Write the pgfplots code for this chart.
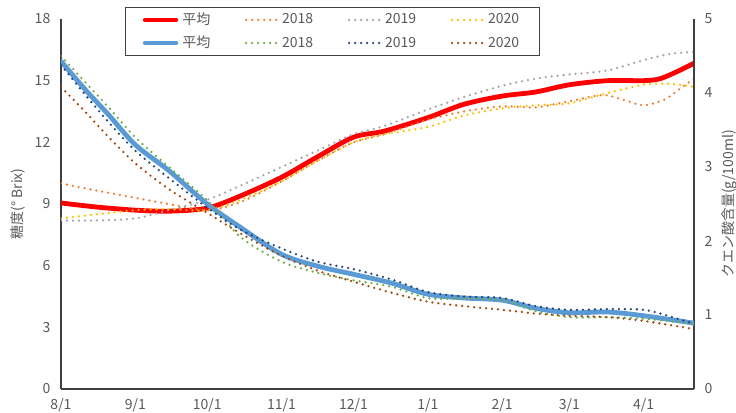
\documentclass[border=0pt]{standalone}
\usepackage{fontspec}
\setmainfont{Noto Sans CJK JP}
\usepackage{pgfplots}
\pgfplotsset{compat=1.18}
\usepackage{pgfplotstable}

\definecolor{cRed}{HTML}{FF0000}
\definecolor{cOrange}{HTML}{ED7D31}
\definecolor{cGray}{HTML}{A5A5A5}
\definecolor{cYellow}{HTML}{FFC000}
\definecolor{cBlue}{HTML}{5B9BD5}
\definecolor{cGreen}{HTML}{70AD47}
\definecolor{cDkBlue}{HTML}{264478}
\definecolor{cBrown}{HTML}{9E480E}
\definecolor{txt}{HTML}{595959}
\definecolor{axl}{HTML}{404040}

% Brix (left axis), x = days since 8/1
\pgfplotstableread{
d r
0 9.05
15 8.85
31 8.7
45 8.65
61 8.8
75 9.4
92 10.3
107 11.3
122 12.25
135 12.55
153 13.2
168 13.85
184 14.25
198 14.45
212 14.8
228 15.0
243 15.0
250 15.1
258 15.5
264 15.85
}\brixavg
\pgfplotstableread{
d r
0 10.0
15 9.65
31 9.3
45 9.0
61 8.7
75 9.1
92 10.1
107 11.1
122 12.0
135 12.4
153 13.1
168 13.5
184 13.75
198 13.7
212 14.0
226 14.3
235 14.05
243 13.8
252 14.1
258 14.6
264 15.1
}\brixA
\pgfplotstableread{
d r
0 8.2
15 8.2
31 8.3
45 8.7
61 9.2
75 9.9
92 10.8
107 11.6
122 12.4
135 12.8
153 13.6
168 14.2
184 14.75
198 15.1
212 15.3
228 15.5
243 16.0
254 16.3
264 16.4
}\brixB
\pgfplotstableread{
d r
0 8.3
15 8.5
31 8.7
45 8.75
61 8.7
75 9.2
92 10.1
107 11.1
122 12.0
135 12.4
153 12.75
168 13.3
184 13.65
198 13.8
212 13.9
228 14.4
243 14.8
254 14.85
264 14.7
}\brixC

% citric acid (right axis)
\pgfplotstableread{
d a
0 4.43
10 4.05
20 3.7
31 3.3
45 2.95
61 2.5
75 2.18
92 1.82
107 1.66
122 1.55
138 1.43
153 1.28
168 1.23
184 1.2
198 1.09
212 1.03
228 1.04
243 0.99
264 0.89
}\acidavg
\pgfplotstableread{
d a
0 4.5
10 4.15
20 3.8
31 3.4
45 3.0
61 2.55
75 2.05
92 1.72
107 1.57
122 1.47
138 1.38
153 1.23
168 1.22
184 1.2
198 1.05
212 0.97
228 0.97
243 0.95
264 0.88
}\acidA
\pgfplotstableread{
d a
0 4.38
10 3.98
20 3.6
31 3.22
45 2.85
61 2.45
75 2.15
92 1.9
107 1.72
122 1.62
138 1.48
153 1.31
168 1.25
184 1.23
198 1.12
212 1.07
228 1.08
243 1.07
252 1.0
264 0.88
}\acidB
\pgfplotstableread{
d a
0 4.08
10 3.75
20 3.4
31 3.05
45 2.7
61 2.38
75 2.1
92 1.8
107 1.6
122 1.45
138 1.3
153 1.18
168 1.12
184 1.07
198 1.02
212 0.99
228 0.97
243 0.92
264 0.81
}\acidC

\pgfplotsset{
  base/.style={
    width=474.75pt, height=277.5pt, scale only axis,
    at={(0,0)}, anchor=south west,
    xmin=0, xmax=264,
    major tick length=0pt,
    tick label style={font=\fontsize{10.5}{12}\selectfont, text=txt},
    label style={font=\fontsize{10.5}{12}\selectfont, text=txt},
    /pgf/number format/assume math mode=true,
    axis line style={-, draw=axl, line width=0.8pt},
  },
  avg/.style={line width=3.6pt, smooth, tension=0.5, no marks},
  dots/.style={line width=1.9pt, line cap=round, dash pattern=on 0pt off 4.5pt, smooth, tension=0.5, no marks},
}

\begin{document}
\begin{tikzpicture}
\useasboundingbox (-45.75pt,-18pt) rectangle (506.25pt,291.75pt);
\begin{axis}[base,
  axis x line*=bottom, axis y line*=left,
  ymin=0, ymax=18, ytick={0,3,...,18},
  xtick={0,31,61,92,122,153,184,212,243},
  xticklabels={8/1,9/1,10/1,11/1,12/1,1/1,2/1,3/1,4/1},
  yticklabel style={xshift=-4.5pt},
  xticklabel style={yshift=-3.5pt},
  ylabel={糖度(° Brix)},
]
\addplot[avg, cRed] table[x=d,y=r]{\brixavg};
\addplot[dots, cOrange] table[x=d,y=r]{\brixA};
\addplot[dots, cGray] table[x=d,y=r]{\brixB};
\addplot[dots, cYellow] table[x=d,y=r]{\brixC};
\end{axis}
\begin{axis}[base,
  axis x line=none, axis y line*=right,
  ymin=0, ymax=5, ytick={0,...,5},
  yticklabel style={xshift=4.5pt},
  ylabel={クエン酸含量(g/100ml)},
  legend columns=4,
  legend cell align=left,
  legend image code/.code={\draw[#1] (0pt,0pt) -- (23pt,0pt);},
  legend style={at={(0.101,1.032)}, anchor=north west, draw=axl, line width=0.8pt,
    font=\fontsize{10.5}{12}\selectfont, text=txt,
    inner xsep=13pt, inner ysep=2pt,
    /tikz/every odd column/.append style={column sep=1pt},
    /tikz/every even column/.append style={column sep=24pt},
    row sep=3pt},
]
\addlegendimage{line width=3.6pt, cRed, line cap=round}
\addlegendentry{平均}
\addlegendimage{line width=1.9pt, line cap=round, dash pattern=on 0pt off 4.5pt, cOrange}
\addlegendentry{2018}
\addlegendimage{line width=1.9pt, line cap=round, dash pattern=on 0pt off 4.5pt, cGray}
\addlegendentry{2019}
\addlegendimage{line width=1.9pt, line cap=round, dash pattern=on 0pt off 4.5pt, cYellow}
\addlegendentry{2020}
\addplot[avg, cBlue, line cap=round] table[x=d,y=a]{\acidavg};
\addlegendentry{平均}
\addplot[dots, cGreen] table[x=d,y=a]{\acidA};
\addlegendentry{2018}
\addplot[dots, cDkBlue] table[x=d,y=a]{\acidB};
\addlegendentry{2019}
\addplot[dots, cBrown] table[x=d,y=a]{\acidC};
\addlegendentry{2020}
\end{axis}
\end{tikzpicture}
\end{document}
